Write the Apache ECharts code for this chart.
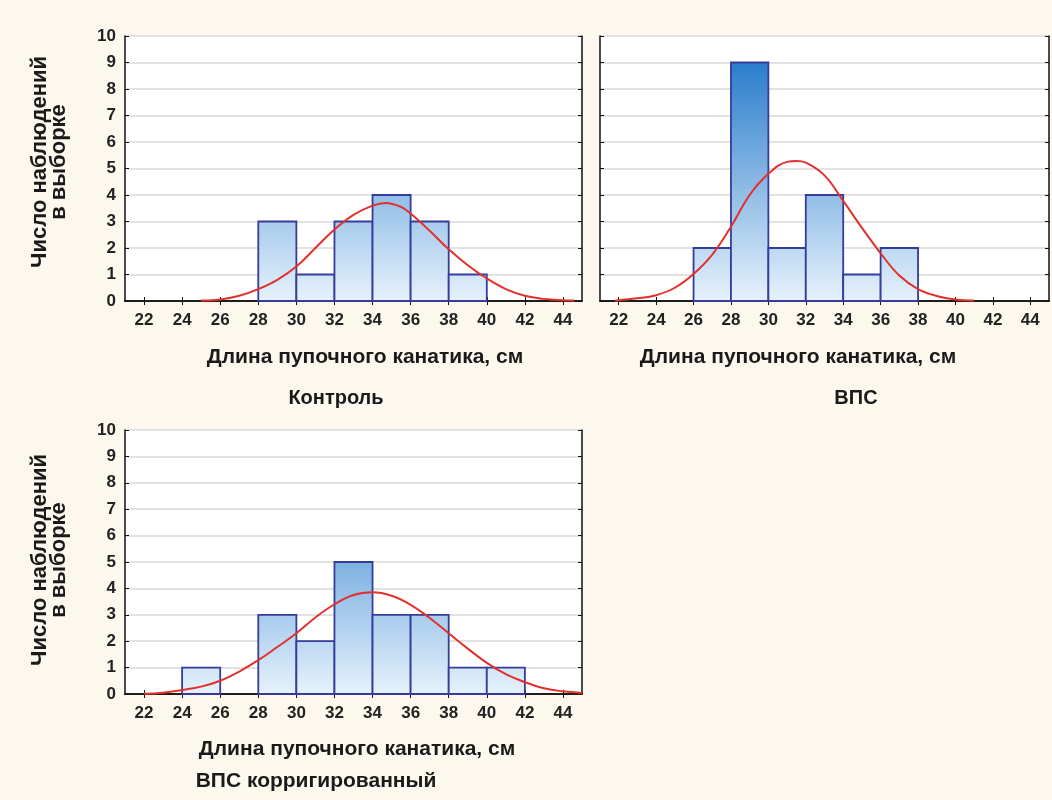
<!DOCTYPE html>
<html>
<head>
<meta charset="utf-8">
<script src="https://cdn.jsdelivr.net/npm/echarts@6/dist/echarts.min.js"></script>
<style>
  html, body { margin: 0; padding: 0; background: #fdf8ee; }
  #main { width: 1052px; height: 800px; }
</style>
</head>
<body>
<div id="main"></div>
<script>
// подписи оси X
var xTicks = [22, 24, 26, 28, 30, 32, 34, 36, 38, 40, 42, 44];
var binWidth = 2;

// Контроль
var controlBins = [28, 30, 32, 34, 36, 38];
var controlCounts = [3, 1, 3, 4, 3, 1];
var controlCurveX = [25, 26, 27, 28, 29, 30, 31, 32, 33, 34, 34.7, 35.5, 36, 37, 38, 39, 40, 41, 42, 43, 44, 44.6];
var controlCurveY = [0.02, 0.06, 0.2, 0.45, 0.8, 1.3, 2.0, 2.7, 3.25, 3.6, 3.7, 3.55, 3.3, 2.65, 1.95, 1.35, 0.85, 0.45, 0.2, 0.08, 0.03, 0.02];

// ВПС
var vpsBins = [26, 28, 30, 32, 34, 36];
var vpsCounts = [2, 9, 2, 4, 1, 2];
var vpsCurveX = [21.8, 22, 23, 24, 25, 26, 27, 28, 29, 30, 31, 31.5, 32, 33, 34, 35, 36, 37, 38, 39, 40, 41];
var vpsCurveY = [0.01, 0.03, 0.1, 0.22, 0.5, 1.02, 1.75, 2.8, 4.0, 4.8, 5.25, 5.28, 5.22, 4.74, 3.78, 2.76, 1.8, 0.96, 0.45, 0.19, 0.06, 0.02];

// ВПС корригированный
var corrBins = [24, 28, 30, 32, 34, 36, 38, 40];
var corrCounts = [1, 3, 2, 5, 3, 3, 1, 1];
var corrCurveX = [22, 23, 24, 25, 26, 27, 28, 29, 30, 31, 32, 33, 34, 35, 36, 37, 38, 39, 40, 41, 42, 43, 44, 45];
var corrCurveY = [0.01, 0.05, 0.15, 0.28, 0.5, 0.85, 1.28, 1.78, 2.3, 2.9, 3.4, 3.75, 3.85, 3.72, 3.38, 2.88, 2.3, 1.72, 1.18, 0.75, 0.45, 0.22, 0.1, 0.04];

var xTitle = 'Длина пупочного канатика, см';
var yTitle = 'Число наблюдений\nв выборке';

var chart = echarts.init(document.getElementById('main'));

var fontFam = '"Liberation Sans", Arial, sans-serif';
var grids = [
  { left: 125, top: 36, width: 457, height: 265 },
  { left: 600, top: 36, width: 449, height: 265 },
  { left: 125, top: 430, width: 457, height: 264 }
];

function histData(bins, counts) {
  return bins.map(function (b, i) { return [b, b + binWidth, counts[i]]; });
}
function curveData(xs, ys) {
  return xs.map(function (x, i) { return [x, ys[i]]; });
}

function renderBars(params, api) {
  var top = api.coord([api.value(0), api.value(2)]);
  var bottom = api.coord([api.value(1), 0]);
  // градиент привязан ко всей высоте графика (0..10)
  var g0 = api.coord([21, 10]);
  var g1 = api.coord([21, 0]);
  return {
    type: 'rect',
    shape: { x: top[0], y: top[1], width: bottom[0] - top[0], height: bottom[1] - top[1] },
    style: {
      fill: new echarts.graphic.LinearGradient(0, g0[1], 0, g1[1], [
        { offset: 0, color: '#1670c7' },
        { offset: 1, color: '#e6f2fc' }
      ], true),
      stroke: '#363c9c',
      lineWidth: 1.8
    }
  };
}

var xAxes = [], yAxes = [];
[0, 1, 2].forEach(function (i) {
  xAxes.push({
    type: 'value', gridIndex: i, min: 21, max: 45, position: 'bottom',
    axisLine: { lineStyle: { color: '#111', width: 1.5 } },
    axisTick: { inside: true, length: 4, customValues: xTicks, lineStyle: { color: '#111' } },
    axisLabel: { customValues: xTicks, fontSize: 17, fontWeight: 'bold', color: '#222', margin: 11, fontFamily: fontFam },
    splitLine: { show: false }
  });
  yAxes.push({
    type: 'value', gridIndex: i, min: 0, max: 10, interval: 1, position: 'left',
    axisLine: { show: true, lineStyle: { color: '#111', width: 1.5 } },
    axisTick: { show: true, inside: true, length: 4, lineStyle: { color: '#111' } },
    axisLabel: { show: i !== 1, fontSize: 17, fontWeight: 'bold', color: '#222', margin: 9, fontFamily: fontFam },
    splitLine: { show: true, lineStyle: { color: '#d9d9d9', width: 1.5 } }
  });
});
[0, 1, 2].forEach(function (i) {
  xAxes.push({
    type: 'value', gridIndex: i, min: 21, max: 45, position: 'top',
    axisLine: { lineStyle: { color: '#111', width: 1.5 } },
    axisTick: { inside: true, length: 4, customValues: xTicks, lineStyle: { color: '#111' } },
    axisLabel: { show: false },
    splitLine: { show: false }
  });
  yAxes.push({
    type: 'value', gridIndex: i, min: 0, max: 10, interval: 1, position: 'right',
    axisLine: { show: true, lineStyle: { color: '#111', width: 1.5 } },
    axisTick: { show: true, inside: true, length: 4, lineStyle: { color: '#111' } },
    axisLabel: { show: false },
    splitLine: { show: false }
  });
});

var panels = [
  [controlBins, controlCounts, controlCurveX, controlCurveY],
  [vpsBins, vpsCounts, vpsCurveX, vpsCurveY],
  [corrBins, corrCounts, corrCurveX, corrCurveY]
];
var series = [];
panels.forEach(function (p, i) {
  series.push({
    type: 'custom', xAxisIndex: i, yAxisIndex: i,
    renderItem: renderBars,
    data: histData(p[0], p[1]),
    encode: { x: [0, 1], y: 2 },
    z: 2
  });
  series.push({
    type: 'line', xAxisIndex: i, yAxisIndex: i,
    data: curveData(p[2], p[3]),
    smooth: 0.4, showSymbol: false, symbol: 'none',
    lineStyle: { color: '#e2312c', width: 2 },
    z: 3
  });
});

function label(x, y, text, size) {
  return {
    type: 'text', x: x, y: y,
    style: {
      text: text, fill: '#1a1a1a', font: 'bold ' + size + 'px ' + fontFam,
      textAlign: 'center', textVerticalAlign: 'middle'
    }
  };
}
function yLabel(x, y) {
  return {
    type: 'text', x: x, y: y, rotation: Math.PI / 2,
    style: {
      text: yTitle, fill: '#1a1a1a', font: 'bold 22px ' + fontFam, lineHeight: 19,
      textAlign: 'center', textVerticalAlign: 'middle'
    }
  };
}

var option = {
  backgroundColor: '#fdf8ee',
  animation: false,
  grid: grids.map(function (g) {
    return Object.assign({ show: true, backgroundColor: '#fff', borderWidth: 0 }, g);
  }),
  xAxis: xAxes,
  yAxis: yAxes,
  series: series,
  graphic: [
    label(365, 357, xTitle, 21),
    label(798, 357, xTitle, 21),
    label(357, 749, xTitle, 21),
    label(336, 398, 'Контроль', 20),
    label(856, 398, 'ВПС', 20),
    label(316, 781, 'ВПС корригированный', 21),
    yLabel(49, 162),
    yLabel(49, 560)
  ]
};

chart.setOption(option);
</script>
</body>
</html>
